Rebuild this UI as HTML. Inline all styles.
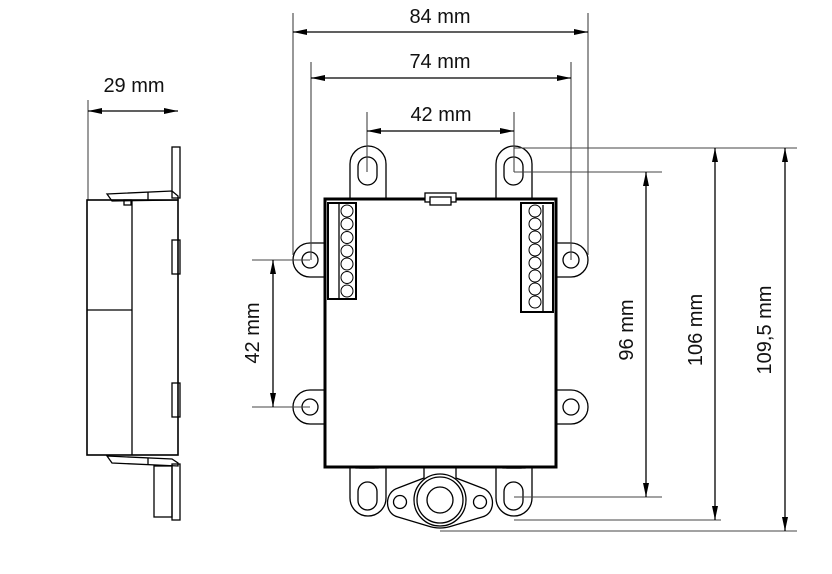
<!DOCTYPE html>
<html><head><style>
html,body{margin:0;padding:0;background:#fff;}
svg{display:block;}
text{font-family:"Liberation Sans",sans-serif;font-size:20px;fill:#111;}
</style></head><body>
<svg width="832" height="574" viewBox="0 0 832 574" xmlns="http://www.w3.org/2000/svg">
<defs>
<marker id="a" viewBox="0 0 14 6" refX="14" refY="3" markerWidth="14" markerHeight="6" orient="auto-start-reverse" markerUnits="userSpaceOnUse"><path d="M0,0L14,3L0,6z" fill="#000"/></marker>
</defs>
<g fill="none" stroke="#000" stroke-width="1.3">
<!-- side view -->
<line x1="88" y1="100" x2="88" y2="200" stroke="#666"/>
<line x1="88" y1="111" x2="178" y2="111" marker-start="url(#a)" marker-end="url(#a)"/>
<rect x="87" y="200" width="91" height="255" stroke-width="1.6"/>
<line x1="132" y1="200" x2="132" y2="455"/>
<line x1="87" y1="310" x2="132" y2="310"/>
<rect x="172" y="147" width="8" height="51"/>
<path d="M107,194 L172,191 L178,196 L178,200 L112,201 Z"/>
<line x1="148" y1="192" x2="148" y2="200"/>
<rect x="124" y="200" width="7" height="5"/>
<rect x="172" y="240" width="8" height="34"/>
<rect x="172" y="383" width="8" height="34"/>
<path d="M107,456 L172,459 L178,463 L178,466 L112,463 Z"/>
<line x1="148" y1="458" x2="148" y2="464"/>
<rect x="154" y="466" width="18" height="51"/>
<rect x="172" y="464" width="8" height="56"/>
<!-- front view -->
<path d="M350,200 L350,164 A18,18 0 0 1 386,164 L386,200" />
<rect x="358" y="157" width="19" height="28" rx="9.5"/>
<path d="M496,200 L496,164 A18,18 0 0 1 532,164 L532,200" />
<rect x="504" y="157" width="19" height="28" rx="9.5"/>
<path d="M325,243 L310,243 A17,17 0 0 0 310,277 L325,277"/>
<circle cx="310" cy="260" r="8"/>
<path d="M556,243 L571,243 A17,17 0 0 1 571,277 L556,277"/>
<circle cx="571" cy="260" r="8"/>
<path d="M325,390 L310,390 A17,17 0 0 0 310,424 L325,424"/>
<circle cx="310" cy="407" r="8"/>
<path d="M556,390 L571,390 A17,17 0 0 1 571,424 L556,424"/>
<circle cx="571" cy="407" r="8"/>
<path d="M350,467 L350,498 A18,18 0 0 0 386,498 L386,467"/>
<rect x="358" y="482" width="19" height="28" rx="9.5"/>
<path d="M496,467 L496,498 A18,18 0 0 0 532,498 L532,467"/>
<rect x="504" y="482" width="19" height="28" rx="9.5"/>
<rect x="356" y="459" width="22" height="9"/><rect x="360" y="461" width="14" height="7"/>
<rect x="503" y="459" width="22" height="9"/><rect x="507" y="461" width="14" height="7"/>
<path d="M424,467 L424,478 L398,488 C384,492 384,514 398,517 L428,526 Q440,530 452,526 L482,517 C496,514 496,492 482,488 L456,478 L456,467"/>
<circle cx="440" cy="500" r="26"/>
<circle cx="440" cy="500" r="23"/>
<circle cx="440" cy="500" r="13"/>
<circle cx="400" cy="502" r="6.5"/>
<circle cx="480" cy="502" r="6.5"/>
<rect x="325" y="199" width="231" height="268" fill="#fff" stroke-width="3"/>
<rect x="425" y="193" width="31" height="9" fill="#fff"/>
<rect x="430" y="197" width="21" height="8" fill="#fff"/>
<rect x="328" y="203" width="28" height="96" stroke-width="2"/>
<line x1="339" y1="203" x2="339" y2="299"/>
<rect x="521" y="203" width="32" height="109" stroke-width="2"/>
<line x1="543" y1="205" x2="543" y2="312"/>
<g stroke-width="1">
<circle cx="347" cy="211" r="6"/><circle cx="347" cy="224" r="6"/><circle cx="347" cy="237.5" r="6"/><circle cx="347" cy="251" r="6"/><circle cx="347" cy="264" r="6"/><circle cx="347" cy="277.5" r="6"/><circle cx="347" cy="291" r="6"/>
<circle cx="535" cy="211" r="6"/><circle cx="535" cy="224" r="6"/><circle cx="535" cy="237" r="6"/><circle cx="535" cy="250" r="6"/><circle cx="535" cy="263" r="6"/><circle cx="535" cy="276" r="6"/><circle cx="535" cy="289" r="6"/><circle cx="535" cy="302" r="6"/>
</g>
<g stroke="#444" stroke-width="1.1">
<line x1="293" y1="13" x2="293" y2="255"/>
<line x1="588" y1="13" x2="588" y2="255"/>
<line x1="311" y1="62" x2="311" y2="260"/>
<line x1="571" y1="62" x2="571" y2="260"/>
<line x1="367" y1="112" x2="367" y2="172"/>
<line x1="514" y1="112" x2="514" y2="172"/>
<line x1="514" y1="148" x2="797" y2="148"/>
<line x1="514" y1="172" x2="662" y2="172"/>
<line x1="514" y1="497" x2="662" y2="497"/>
<line x1="514" y1="520" x2="721" y2="520"/>
<line x1="440" y1="531" x2="797" y2="531"/>
<line x1="252" y1="260" x2="310" y2="260"/>
<line x1="252" y1="407" x2="310" y2="407"/>
</g>
<line x1="293" y1="32" x2="588" y2="32" marker-start="url(#a)" marker-end="url(#a)"/>
<line x1="311" y1="78" x2="571" y2="78" marker-start="url(#a)" marker-end="url(#a)"/>
<line x1="367" y1="131" x2="514" y2="131" marker-start="url(#a)" marker-end="url(#a)"/>
<line x1="646" y1="172" x2="646" y2="497" marker-start="url(#a)" marker-end="url(#a)"/>
<line x1="715" y1="148" x2="715" y2="520" marker-start="url(#a)" marker-end="url(#a)"/>
<line x1="785" y1="148" x2="785" y2="531" marker-start="url(#a)" marker-end="url(#a)"/>
<line x1="273" y1="260" x2="273" y2="407" marker-start="url(#a)" marker-end="url(#a)"/>
</g>
<text x="134" y="92" text-anchor="middle">29 mm</text>
<text x="440" y="23" text-anchor="middle">84 mm</text>
<text x="440" y="68" text-anchor="middle">74 mm</text>
<text x="441" y="121" text-anchor="middle">42 mm</text>
<text transform="translate(633,330) rotate(-90)" text-anchor="middle">96 mm</text>
<text transform="translate(702,330) rotate(-90)" text-anchor="middle">106 mm</text>
<text transform="translate(771,330) rotate(-90)" text-anchor="middle">109,5 mm</text>
<text transform="translate(259,333) rotate(-90)" text-anchor="middle">42 mm</text>
</svg>
</body></html>
